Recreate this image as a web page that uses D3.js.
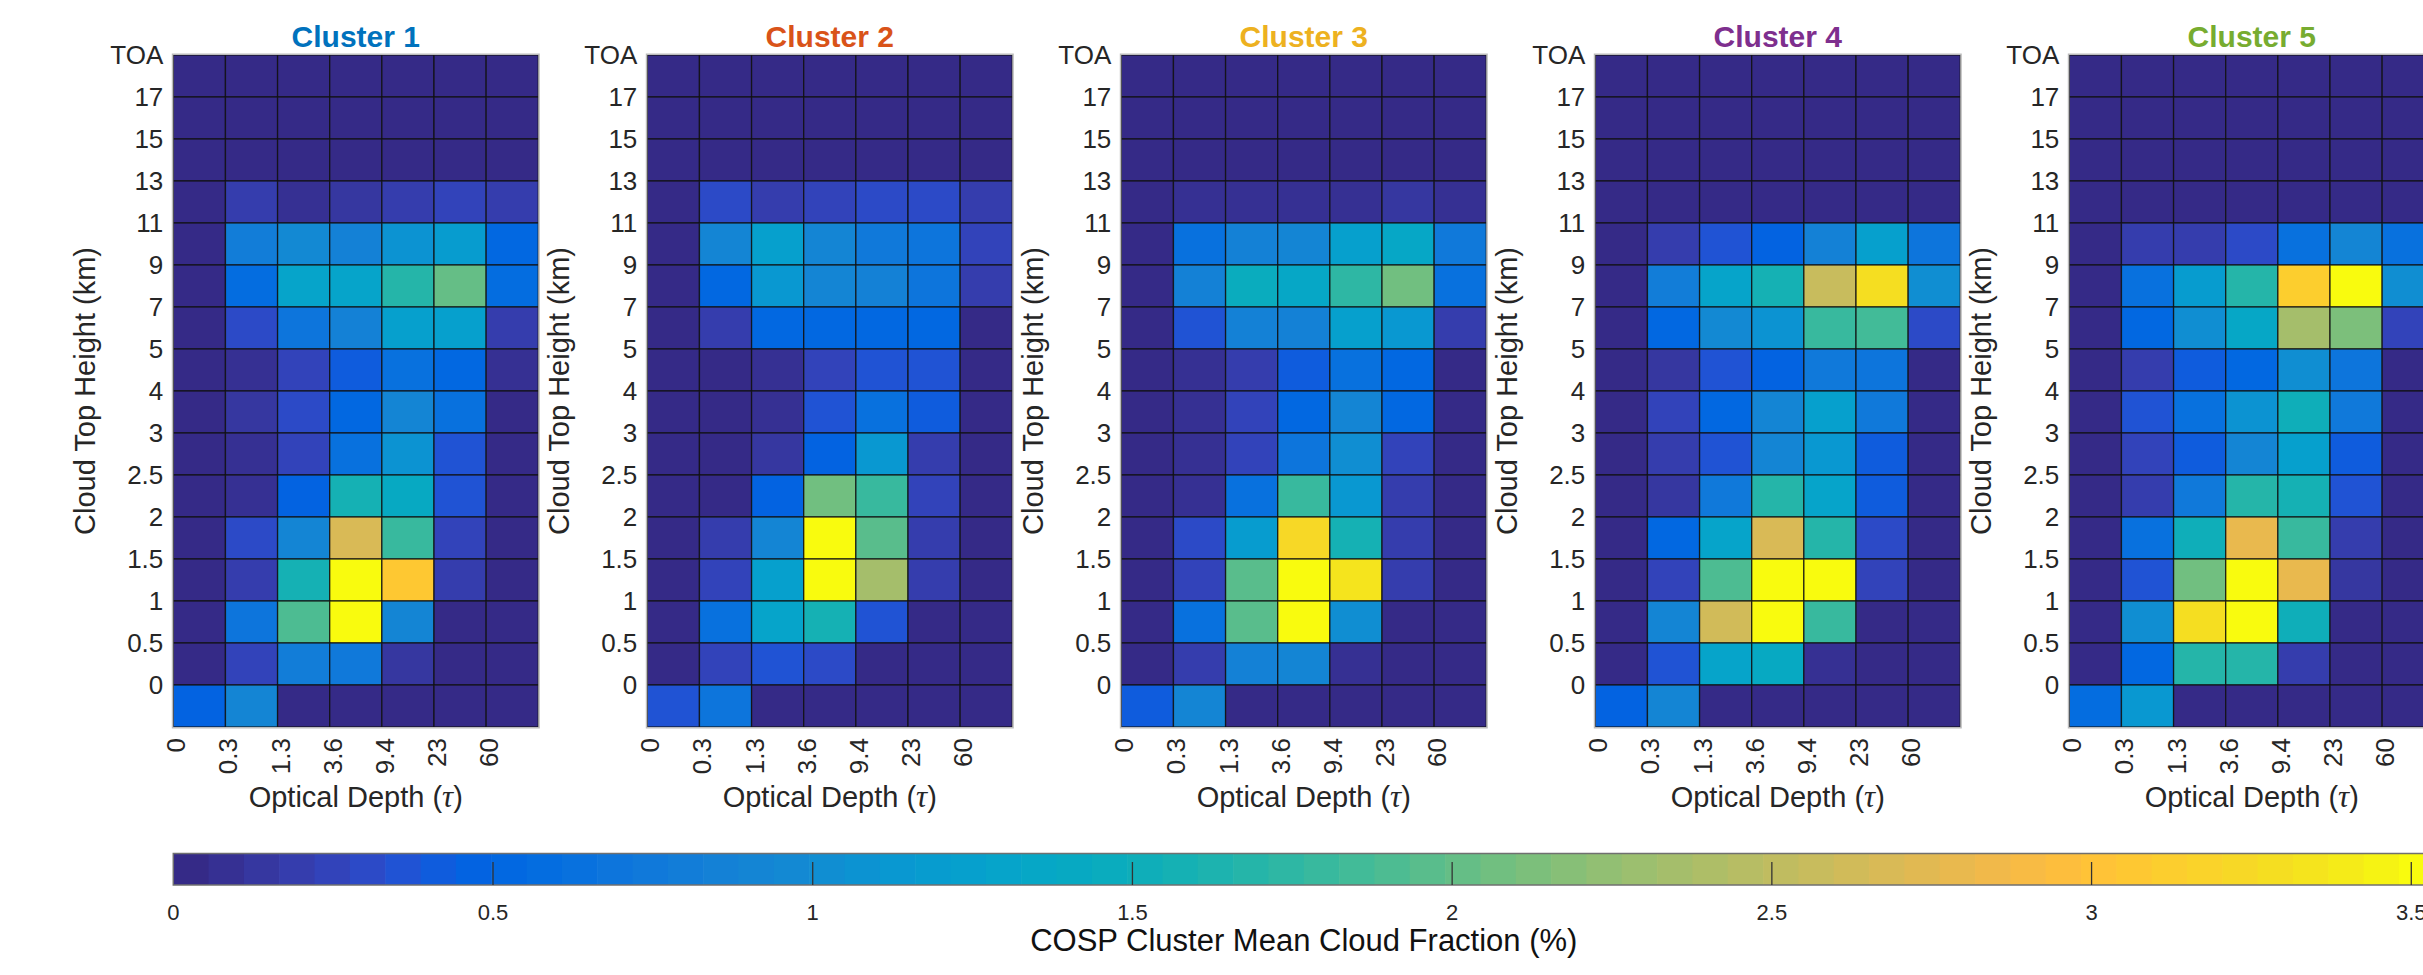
<!DOCTYPE html>
<html>
<head>
<meta charset="utf-8">
<script src="https://cdn.jsdelivr.net/npm/d3@7"></script>
<style>
  body { margin: 0; background: #fff; }
  svg { display: block; font-family: "Liberation Sans", Arial, Helvetica, sans-serif; }
</style>
</head>
<body>
<script>
// optical depth bin edges (x) and cloud top height bin edges (y, top to bottom)
const xLabels = ["0", "0.3", "1.3", "3.6", "9.4", "23", "60"];
const yLabels = ["TOA", "17", "15", "13", "11", "9", "7", "5", "4", "3", "2.5", "2", "1.5", "1", "0.5", "0"];
const clusterNames = ["Cluster 1", "Cluster 2", "Cluster 3", "Cluster 4", "Cluster 5"];
const titleColors = ["#0072BD", "#D95319", "#EDB120", "#7E2F8E", "#77AC30"];
const cbTicks = [0, 0.5, 1, 1.5, 2, 2.5, 3, 3.5];
const cMax = 3.536;

// mean cloud fraction (%), rows from TOA down to below 0 km, columns by optical depth bin
const cluster1 = [
  [0.03, 0.03, 0.02, 0.02, 0.02, 0.02, 0.03],
  [0.03, 0.03, 0.02, 0.02, 0.02, 0.02, 0.03],
  [0.03, 0.03, 0.02, 0.02, 0.02, 0.03, 0.03],
  [0.03, 0.20, 0.10, 0.15, 0.20, 0.25, 0.17],
  [0.03, 0.80, 0.95, 0.88, 1.05, 1.20, 0.55],
  [0.03, 0.60, 1.32, 1.28, 1.68, 2.00, 0.58],
  [0.03, 0.30, 0.70, 0.87, 1.24, 1.22, 0.20],
  [0.03, 0.10, 0.26, 0.42, 0.62, 0.53, 0.06],
  [0.03, 0.12, 0.30, 0.55, 0.92, 0.62, 0.05],
  [0.03, 0.10, 0.27, 0.62, 1.10, 0.36, 0.05],
  [0.03, 0.08, 0.48, 1.57, 1.42, 0.35, 0.05],
  [0.03, 0.30, 0.90, 2.68, 1.80, 0.25, 0.05],
  [0.03, 0.22, 1.57, 3.60, 3.08, 0.18, 0.04],
  [0.03, 0.70, 1.90, 3.60, 0.90, 0.04, 0.03],
  [0.03, 0.27, 0.80, 0.72, 0.14, 0.05, 0.04],
  [0.48, 0.90, 0.04, 0.04, 0.05, 0.04, 0.04]
];
const cluster2 = [
  [0.03, 0.03, 0.02, 0.02, 0.02, 0.02, 0.03],
  [0.03, 0.03, 0.02, 0.02, 0.02, 0.02, 0.03],
  [0.03, 0.03, 0.03, 0.03, 0.03, 0.03, 0.03],
  [0.03, 0.30, 0.22, 0.26, 0.30, 0.30, 0.22],
  [0.03, 0.93, 1.22, 0.90, 0.75, 0.70, 0.26],
  [0.03, 0.52, 1.15, 0.90, 0.85, 0.70, 0.22],
  [0.03, 0.22, 0.50, 0.52, 0.55, 0.52, 0.05],
  [0.03, 0.05, 0.08, 0.26, 0.36, 0.35, 0.04],
  [0.03, 0.05, 0.10, 0.36, 0.62, 0.42, 0.04],
  [0.03, 0.05, 0.15, 0.48, 1.12, 0.22, 0.04],
  [0.03, 0.05, 0.48, 2.07, 1.80, 0.26, 0.04],
  [0.03, 0.20, 0.90, 3.60, 1.95, 0.20, 0.04],
  [0.03, 0.24, 1.22, 3.60, 2.35, 0.18, 0.04],
  [0.03, 0.62, 1.32, 1.57, 0.36, 0.05, 0.04],
  [0.03, 0.25, 0.36, 0.30, 0.05, 0.04, 0.04],
  [0.36, 0.70, 0.04, 0.04, 0.04, 0.04, 0.04]
];
const cluster3 = [
  [0.03, 0.03, 0.02, 0.02, 0.02, 0.02, 0.03],
  [0.03, 0.03, 0.02, 0.02, 0.02, 0.02, 0.03],
  [0.03, 0.03, 0.03, 0.03, 0.03, 0.03, 0.03],
  [0.03, 0.06, 0.06, 0.06, 0.10, 0.12, 0.08],
  [0.03, 0.62, 0.85, 0.90, 1.24, 1.35, 0.75],
  [0.03, 0.85, 1.45, 1.38, 1.75, 2.07, 0.62],
  [0.03, 0.36, 0.85, 0.88, 1.24, 1.15, 0.22],
  [0.03, 0.06, 0.22, 0.42, 0.62, 0.53, 0.05],
  [0.03, 0.08, 0.26, 0.55, 0.90, 0.52, 0.04],
  [0.03, 0.06, 0.24, 0.70, 1.02, 0.26, 0.04],
  [0.03, 0.06, 0.62, 1.80, 1.15, 0.22, 0.04],
  [0.03, 0.30, 1.20, 3.23, 1.57, 0.18, 0.04],
  [0.03, 0.25, 1.95, 3.60, 3.36, 0.18, 0.04],
  [0.03, 0.62, 1.95, 3.52, 1.00, 0.05, 0.04],
  [0.03, 0.22, 0.88, 0.90, 0.08, 0.04, 0.04],
  [0.42, 0.90, 0.04, 0.04, 0.04, 0.04, 0.04]
];
const cluster4 = [
  [0.03, 0.03, 0.02, 0.02, 0.02, 0.02, 0.03],
  [0.03, 0.03, 0.02, 0.02, 0.02, 0.02, 0.03],
  [0.03, 0.03, 0.03, 0.03, 0.03, 0.03, 0.03],
  [0.03, 0.04, 0.04, 0.05, 0.05, 0.05, 0.04],
  [0.03, 0.22, 0.36, 0.48, 0.85, 1.22, 0.70],
  [0.03, 0.80, 1.30, 1.57, 2.57, 3.27, 1.02],
  [0.03, 0.52, 0.95, 1.05, 1.80, 1.85, 0.30],
  [0.03, 0.14, 0.36, 0.48, 0.75, 0.70, 0.05],
  [0.03, 0.26, 0.52, 0.90, 1.22, 0.76, 0.04],
  [0.03, 0.20, 0.36, 0.90, 1.15, 0.42, 0.04],
  [0.03, 0.14, 0.76, 1.68, 1.30, 0.42, 0.04],
  [0.03, 0.53, 1.30, 2.68, 1.68, 0.30, 0.04],
  [0.03, 0.24, 1.90, 3.60, 3.52, 0.24, 0.04],
  [0.03, 0.90, 2.62, 3.60, 1.80, 0.05, 0.04],
  [0.03, 0.36, 1.28, 1.42, 0.08, 0.04, 0.04],
  [0.48, 0.92, 0.04, 0.04, 0.04, 0.04, 0.04]
];
const cluster5 = [
  [0.03, 0.03, 0.02, 0.02, 0.02, 0.02, 0.03],
  [0.03, 0.03, 0.02, 0.02, 0.02, 0.02, 0.03],
  [0.03, 0.03, 0.03, 0.03, 0.03, 0.03, 0.03],
  [0.03, 0.04, 0.04, 0.05, 0.05, 0.05, 0.04],
  [0.03, 0.20, 0.18, 0.30, 0.62, 0.92, 0.62],
  [0.03, 0.62, 1.20, 1.68, 3.12, 3.52, 1.02],
  [0.03, 0.52, 1.02, 1.35, 2.35, 2.12, 0.24],
  [0.03, 0.20, 0.42, 0.53, 1.00, 0.70, 0.05],
  [0.03, 0.36, 0.62, 1.05, 1.50, 0.76, 0.04],
  [0.03, 0.26, 0.42, 0.93, 1.24, 0.42, 0.04],
  [0.03, 0.22, 0.76, 1.68, 1.57, 0.36, 0.04],
  [0.03, 0.62, 1.52, 2.80, 1.80, 0.18, 0.04],
  [0.03, 0.36, 2.07, 3.60, 2.80, 0.14, 0.04],
  [0.03, 1.00, 3.30, 3.60, 1.52, 0.05, 0.04],
  [0.03, 0.53, 1.68, 1.68, 0.18, 0.04, 0.04],
  [0.60, 1.15, 0.04, 0.04, 0.04, 0.04, 0.04]
];
const clusters = [cluster1, cluster2, cluster3, cluster4, cluster5];

// MATLAB parula(64)
const parula = [
  [0.2081,0.1663,0.5292],[0.2116,0.1898,0.5777],[0.2123,0.2138,0.6270],[0.2081,0.2386,0.6771],
  [0.1959,0.2645,0.7279],[0.1707,0.2919,0.7792],[0.1253,0.3242,0.8303],[0.0591,0.3598,0.8683],
  [0.0117,0.3875,0.8820],[0.0060,0.4086,0.8828],[0.0165,0.4266,0.8786],[0.0329,0.4430,0.8720],
  [0.0498,0.4586,0.8641],[0.0629,0.4737,0.8554],[0.0723,0.4887,0.8467],[0.0779,0.5040,0.8384],
  [0.0793,0.5200,0.8312],[0.0749,0.5375,0.8263],[0.0641,0.5570,0.8240],[0.0488,0.5772,0.8228],
  [0.0343,0.5966,0.8199],[0.0265,0.6137,0.8135],[0.0239,0.6287,0.8038],[0.0231,0.6418,0.7913],
  [0.0228,0.6535,0.7768],[0.0267,0.6642,0.7607],[0.0384,0.6743,0.7436],[0.0590,0.6838,0.7254],
  [0.0843,0.6928,0.7062],[0.1133,0.7015,0.6859],[0.1453,0.7098,0.6646],[0.1801,0.7177,0.6424],
  [0.2178,0.7250,0.6193],[0.2586,0.7317,0.5954],[0.3022,0.7376,0.5712],[0.3482,0.7424,0.5473],
  [0.3953,0.7459,0.5244],[0.4420,0.7481,0.5033],[0.4871,0.7491,0.4840],[0.5300,0.7491,0.4661],
  [0.5709,0.7485,0.4494],[0.6099,0.7473,0.4337],[0.6473,0.7456,0.4188],[0.6834,0.7435,0.4044],
  [0.7184,0.7411,0.3905],[0.7525,0.7384,0.3768],[0.7858,0.7356,0.3633],[0.8185,0.7327,0.3498],
  [0.8507,0.7299,0.3360],[0.8824,0.7274,0.3217],[0.9139,0.7258,0.3063],[0.9450,0.7261,0.2886],
  [0.9739,0.7314,0.2666],[0.9938,0.7455,0.2403],[0.9990,0.7653,0.2164],[0.9955,0.7861,0.1967],
  [0.9880,0.8066,0.1794],[0.9789,0.8271,0.1633],[0.9697,0.8481,0.1475],[0.9626,0.8705,0.1309],
  [0.9589,0.8949,0.1132],[0.9598,0.9218,0.0948],[0.9661,0.9514,0.0755],[0.9763,0.9831,0.0538]
].map(([r, g, b]) => d3.rgb(r * 255, g * 255, b * 255).formatHex());

const width = 2423, height = 975;
const panelX0 = 173.3, panelStep = 474, panelW = 365, panelTop = 55, panelH = 672;
const textColor = "#262626";

const color = d3.scaleQuantize().domain([0, cMax]).range(parula);

const svg = d3.select("body").append("svg")
    .attr("width", width)
    .attr("height", height);

svg.append("rect").attr("width", width).attr("height", height).attr("fill", "#fff");

clusters.forEach((grid, k) => {
  const left = panelX0 + panelStep * k;
  const x = d3.scaleLinear().domain([0, 7]).range([left, left + panelW]);
  const y = d3.scaleLinear().domain([0, 16]).range([panelTop, panelTop + panelH]);

  const g = svg.append("g");

  const cells = grid.flatMap((row, r) => row.map((v, c) => ({r, c, v})));

  g.selectAll("rect.cell")
    .data(cells)
    .join("rect")
      .attr("class", "cell")
      .attr("x", d => x(d.c))
      .attr("y", d => y(d.r))
      .attr("width", x(1) - x(0))
      .attr("height", y(1) - y(0))
      .attr("fill", d => color(d.v))
      .attr("stroke", "#111")
      .attr("stroke-opacity", 0.85)
      .attr("stroke-width", 1.3);

  g.append("rect")
      .attr("x", x(0) - 0.75)
      .attr("y", y(0) - 0.75)
      .attr("width", panelW + 1.5)
      .attr("height", panelH + 1.5)
      .attr("fill", "none")
      .attr("stroke", "#bcbcbc")
      .attr("stroke-width", 1.5);

  // y axis
  const yAxis = g.append("g")
      .attr("transform", `translate(${left},0)`)
      .call(d3.axisLeft(y).tickValues(d3.range(16)).tickFormat(i => yLabels[i]).tickSize(0).tickPadding(10));
  yAxis.select(".domain").remove();
  yAxis.selectAll("text")
      .attr("font-size", 26)
      .attr("font-family", "Liberation Sans, Arial, sans-serif")
      .attr("fill", textColor);

  // x axis, rotated tick labels
  const xAxis = g.append("g")
      .attr("transform", `translate(0,${panelTop + panelH})`)
      .call(d3.axisBottom(x).tickValues(d3.range(7)).tickFormat(i => xLabels[i]).tickSize(0));
  xAxis.select(".domain").remove();
  xAxis.selectAll("text")
      .attr("transform", "rotate(-90)")
      .attr("x", -11)
      .attr("y", 11.5)
      .attr("dy", null)
      .attr("text-anchor", "end")
      .attr("font-size", 26)
      .attr("font-family", "Liberation Sans, Arial, sans-serif")
      .attr("fill", textColor);

  // title
  g.append("text")
      .attr("x", left + panelW / 2)
      .attr("y", 47)
      .attr("text-anchor", "middle")
      .attr("font-size", 30)
      .attr("font-weight", "bold")
      .attr("fill", titleColors[k])
      .text(clusterNames[k]);

  // axis labels
  g.append("text")
      .attr("transform", `translate(${left - 78},${panelTop + panelH / 2}) rotate(-90)`)
      .attr("text-anchor", "middle")
      .attr("font-size", 29)
      .attr("fill", textColor)
      .text("Cloud Top Height (km)");

  const xl = g.append("text")
      .attr("x", left + panelW / 2)
      .attr("y", 807)
      .attr("text-anchor", "middle")
      .attr("font-size", 29)
      .attr("fill", textColor);
  xl.append("tspan").text("Optical Depth (");
  xl.append("tspan")
      .attr("font-family", "Liberation Serif, DejaVu Serif, serif")
      .attr("font-style", "italic")
      .attr("font-size", 31)
      .text("τ");
  xl.append("tspan").text(")");
});

// colorbar
const cbLeft = panelX0, cbRight = panelX0 + panelStep * 4 + panelW;
const cbTop = 853.5, cbH = 31.5;
const cb = d3.scaleLinear().domain([0, cMax]).range([cbLeft, cbRight]);
const bandW = (cbRight - cbLeft) / parula.length;

const cbg = svg.append("g");
cbg.selectAll("rect.band")
  .data(parula)
  .join("rect")
    .attr("class", "band")
    .attr("x", (d, i) => cbLeft + i * bandW)
    .attr("y", cbTop)
    .attr("width", bandW + 0.6)
    .attr("height", cbH)
    .attr("fill", d => d);

cbg.append("rect")
    .attr("x", cbLeft)
    .attr("y", cbTop)
    .attr("width", cbRight - cbLeft)
    .attr("height", cbH)
    .attr("fill", "none")
    .attr("stroke", "#707070")
    .attr("stroke-width", 1.5);

cbg.selectAll("line.tick")
  .data(cbTicks.filter(t => t > 0))
  .join("line")
    .attr("class", "tick")
    .attr("x1", d => cb(d)).attr("x2", d => cb(d))
    .attr("y1", cbTop + cbH).attr("y2", cbTop + cbH - 23)
    .attr("stroke", "#333")
    .attr("stroke-width", 1.3);

cbg.selectAll("text.tl")
  .data(cbTicks)
  .join("text")
    .attr("class", "tl")
    .attr("x", d => cb(d))
    .attr("y", 920)
    .attr("text-anchor", "middle")
    .attr("font-size", 22)
    .attr("fill", textColor)
    .text(d => d3.format("")(d));

cbg.append("text")
    .attr("x", (cbLeft + cbRight) / 2)
    .attr("y", 951)
    .attr("text-anchor", "middle")
    .attr("font-size", 31)
    .attr("fill", "#111")
    .text("COSP Cluster Mean Cloud Fraction (%)");
</script>
</body>
</html>
